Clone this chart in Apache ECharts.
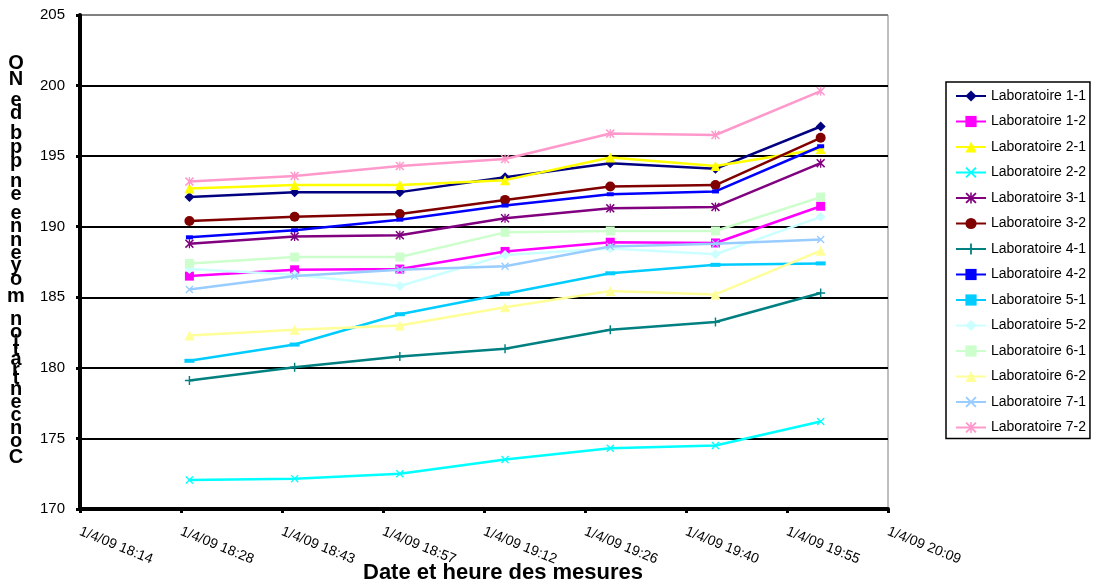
<!DOCTYPE html>
<html>
<head>
<meta charset="utf-8">
<script src="https://cdn.jsdelivr.net/npm/echarts@6/dist/echarts.min.js"></script>
<style>
html,body{margin:0;padding:0;background:#fff;}
#chart{width:1099px;height:587px;}
</style>
</head>
<body>
<div id="chart"></div>
<script>
// ---- data ----
const times = ["18:30","18:45","19:00","19:15","19:30","19:45","20:00"];
const tickLabels = ["1/4/09 18:14","1/4/09 18:28","1/4/09 18:43","1/4/09 18:57","1/4/09 19:12","1/4/09 19:26","1/4/09 19:40","1/4/09 19:55","1/4/09 20:09"];
const seriesNames = ["Laboratoire 1-1","Laboratoire 1-2","Laboratoire 2-1","Laboratoire 2-2","Laboratoire 3-1","Laboratoire 3-2","Laboratoire 4-1","Laboratoire 4-2","Laboratoire 5-1","Laboratoire 5-2","Laboratoire 6-1","Laboratoire 6-2","Laboratoire 7-1","Laboratoire 7-2"];
const lab11 = [192.1, 192.45, 192.45, 193.5, 194.5, 194.1, 197.1];
const lab12 = [186.5, 186.95, 187.0, 188.25, 188.9, 188.85, 191.45];
const lab21 = [192.7, 192.95, 192.95, 193.3, 194.9, 194.3, 195.5];
const lab22 = [172.05, 172.15, 172.5, 173.5, 174.3, 174.5, 176.2];
const lab31 = [188.8, 189.3, 189.4, 190.6, 191.3, 191.4, 194.5];
const lab32 = [190.4, 190.7, 190.9, 191.9, 192.85, 192.95, 196.3];
const lab41 = [179.1, 180.05, 180.8, 181.35, 182.7, 183.25, 185.3];
const lab42 = [189.25, 189.75, 190.5, 191.5, 192.3, 192.5, 195.7];
const lab51 = [180.5, 181.65, 183.8, 185.25, 186.7, 187.3, 187.4];
const lab52 = [187.0, 186.6, 185.8, 188.0, 188.45, 188.05, 190.7];
const lab61 = [187.4, 187.85, 187.85, 189.6, 189.7, 189.7, 192.1];
const lab62 = [182.3, 182.7, 183.0, 184.3, 185.45, 185.2, 188.3];
const lab71 = [185.55, 186.5, 186.95, 187.2, 188.6, 188.8, 189.1];
const lab72 = [193.2, 193.6, 194.3, 194.8, 196.6, 196.5, 199.6];
const allValues = [lab11,lab12,lab21,lab22,lab31,lab32,lab41,lab42,lab51,lab52,lab61,lab62,lab71,lab72];
const yTitle = "Concentration moyenne en ppb de NO";
const xTitle = "Date et heure des mesures";

// ---- styles ----
const colors = ["#000080","#FF00FF","#FFFF00","#00FFFF","#800080","#800000","#008080","#0000FF","#00CCFF","#CCFFFF","#CCFFCC","#FFFF99","#99CCFF","#FF99CC"];
const SX = 'path://M0,1.2 L1.2,0 L5,3.8 L8.8,0 L10,1.2 L6.2,5 L10,8.8 L8.8,10 L5,6.2 L1.2,10 L0,8.8 L3.8,5 Z';
const SPLUS = 'path://M4.2,0 H5.8 V4.2 H10 V5.8 H5.8 V10 H4.2 V5.8 H0 V4.2 H4.2 Z';
const SSTAR = 'path://M0,1.2 L1.2,0 L5,3.8 L8.8,0 L10,1.2 L6.2,5 L10,8.8 L8.8,10 L5,6.2 L1.2,10 L0,8.8 L3.8,5 Z M4.3,0 H5.7 V10 H4.3 Z';
const SDASH = 'path://M0,0 H10 V10 H0 Z';
const symbols = [
  ['diamond',10],['rect',9],['triangle',10],[SX,8],[SSTAR,9],['circle',10],[SPLUS,9],
  [SDASH,[7,4]],[SDASH,[10,4]],['diamond',10],['rect',9],['triangle',10],[SX,8],[SSTAR,9]
];

function toX(t){ const p=t.split(':'); return (parseInt(p[0])*60+parseInt(p[1]))/14.4; }

const chart = echarts.init(document.getElementById('chart'), null, {renderer:'canvas'});
const FONT = '"Liberation Sans", Arial, sans-serif';

const series = seriesNames.map((n,i)=>({
  name:n, type:'line',
  data: times.map((t,j)=>[toX(t), allValues[i][j]]),
  symbol: symbols[i][0], symbolSize: symbols[i][1],
  showAllSymbol:true,
  lineStyle:{color:colors[i], width:2.5},
  itemStyle:{color:colors[i], borderWidth:0},
  emphasis:{disabled:true},
  z: 2+i
}));

// vertical stacked y title
const graphics = [];
(function(){
  const c=document.createElement('canvas').getContext('2d');
  c.font='bold 20px "Liberation Sans"';
  let pos=0; const centers=[];
  for(const ch of yTitle){ const w=c.measureText(ch).width; centers.push({ch, c:pos+w/2}); pos+=w; }
  const first=centers[0].c, last=centers[centers.length-1].c;
  const yStart=457, yEnd=63;
  centers.forEach(o=>{
    if(o.ch===' ') return;
    const y = yStart + (o.c-first)/(last-first)*(yEnd-yStart);
    graphics.push({type:'text', x:16, y:y, z:100, style:{text:o.ch, font:'bold 20px "Liberation Sans"', fill:'#000', align:'center', verticalAlign:'middle'}});
  });
})();
graphics.push({type:'text', x:503, y:572.5, z:100, style:{text:xTitle, font:'bold 22px "Liberation Sans"', fill:'#000', align:'center', verticalAlign:'middle'}});

const splitColors = ['#000','#000','#000','#000','#000','#000','#000','#808080'];

chart.setOption({
  animation:false,
  backgroundColor:'#fff',
  grid:{left:80, right:211, top:15, bottom:78, show:true, borderColor:'#808080', borderWidth:1, backgroundColor:'transparent'},
  xAxis:{
    type:'value', min:76, max:84, interval:1,
    axisLine:{show:true, onZero:false, lineStyle:{color:'#000', width:4}},
    axisTick:{show:true, length:4, lineStyle:{color:'#000', width:3}},
    splitLine:{show:false},
    axisLabel:{rotate:-22, margin:22, fontSize:14, color:'#000', fontFamily:FONT,
      formatter:(v)=>tickLabels[Math.round(v-76)] || ''}
  },
  yAxis:{
    type:'value', min:170, max:205, interval:5,
    axisLine:{show:true, lineStyle:{color:'#000', width:4}},
    axisTick:{show:true, length:4, lineStyle:{color:'#000', width:3}},
    splitLine:{show:true, lineStyle:{color:splitColors, width:2}},
    axisLabel:{margin:15, fontSize:15, color:'#000', fontFamily:FONT}
  },
  legend:{
    orient:'vertical', left:946, top:82,
    padding:[7,4,4,9], itemWidth:30, itemHeight:14, itemGap:11.5,
    borderColor:'#000', borderWidth:1.5, backgroundColor:'#fff',
    textStyle:{fontSize:14, color:'#000', fontFamily:FONT},
    data: seriesNames
  },
  graphic: graphics,
  series: series
});
</script>
</body>
</html>
